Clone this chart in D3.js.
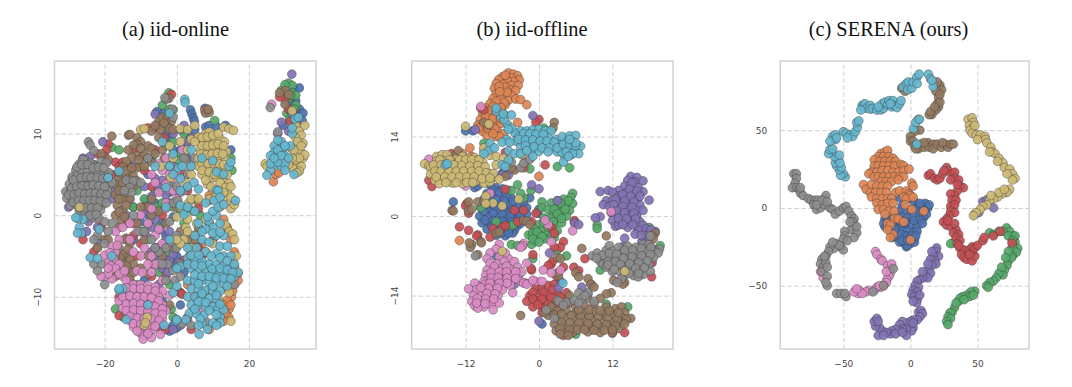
<!DOCTYPE html>
<html><head><meta charset="utf-8">
<script src="https://cdn.jsdelivr.net/npm/d3@7/dist/d3.min.js"></script>
<style>html,body{margin:0;padding:0;background:#fff}svg{display:block}</style>
</head><body><svg id="chart" width="1072" height="387"></svg>
<script>
const classNames=["blue","orange","green","red","purple","brown","pink","gray","olive","cyan"];
const classColors=["#4C72B0","#DD8452","#55A868","#C44E52","#8172B3","#937860","#DA8BC3","#8C8C8C","#CCB974","#64B5CD"];

// (a) iid-online
const aBlue=[[32.5,15.5],[34,15.6],[33,14],[34,13],[35,12.5],[33.5,12],[34.8,11.6],[29.5,11],[32,13.6],[31,13.8],[3.8,12.9],[4.2,12.4],[4.6,11.9],[4.9,11.5],[7.8,13.1],[-4,12.5],[-5.5,12.7],[8,10.8],[9,11],[11,10.9],[5,10.5],[-2,9.5],[-3,10],[3,10],[-1,8],[1,8],[2.5,8.5],[13.5,11],[15,8],[-8,0],[-6,1.5],[-8.5,1.8],[-4,-1],[-2,1.5],[-1,-0.2],[2,0.5],[-10,-0.8],[-3,-5.5],[-1,-6],[-12,-3],[-2,-14.2],[0,-13.8],[-1,-13.5],[1,-11],[-4,-10.5],[-9,-8],[-11,-9],[0,-5],[-5,3],[-14,6],[-23,6.2],[-27,3],[2,-7],[-6,0.5],[-3,-2.5],[-12,1],[6,9.5],[-2,2.8],[-8,5],[3,7]];
const aOrange=[[26.8,4.1],[27.5,5],[28.3,5.2],[16.5,-7.5],[17,-7.1],[16,-6.3],[15.6,-5.5],[15,-8.5],[14,-9],[15.2,-10],[14,-10.4],[13,-11],[14.5,-11.5],[14.4,-12.5],[13.5,-12],[12,-12.7],[11,-9.5],[10,-11],[8,-9.3],[7,-3.5],[5,-3.8],[4,-2.5],[15,-3],[14,-1.5],[13,-0.5],[4,-6],[10,-7],[12,-7.7],[3,-8.5],[3,-12.5],[9,-14],[16,-8.5],[7.8,12.8],[8.5,12.9],[6,1.5],[9,2.4],[12,3],[15.5,-9.3],[16,-4.5],[14.5,-7.5],[17,-8],[13,-13],[15,-11],[15.5,-7.2],[2,-6],[6,-2],[3.5,-4]];
const aGreen=[[31,16.2],[32,15.9],[29,15.3],[32,15],[33,14.7],[31,14.3],[33,13.5],[32,12.8],[30.5,12.5],[31.3,11.8],[33,11.8],[-1,12.9],[-2.2,15],[-4,13.5],[-2,13],[-3,11.5],[-6,10.8],[-5,11],[10.5,11.6],[2,10],[-1,9],[-3,8.5],[1,7.5],[0,6.8],[15,7],[15.3,5.5],[-18,8.3],[-16,8],[-6,3],[-5.5,1],[-4,1.5],[-7,-0.5],[-5,-1.5],[4.5,0.5],[6.5,0],[2,-1],[-6,-5],[-3,-4.5],[-2,7],[-9.5,-2],[-11,-8.5],[-15,-5.3],[-17,-11.5],[-2,-8.5],[-1.5,-11.5],[1,-9.5],[-20,5],[-29,4.5],[-8,-3],[-1,-12.5],[-14.8,-12.5],[-0.5,3.2],[31.5,14.7],[32.6,13],[30,16],[-7,7],[-1,1],[-9,2],[-5,-7],[-8,-1.3],[-2,4],[-4,3],[3,1],[1,0.5],[-11,3],[-10,6],[-12,1]];
const aRed=[[30,15],[31,13],[32.5,12.5],[30,14.2],[28.5,14.5],[31.5,11.5],[-1.5,14.8],[-8,10.7],[-6,10.6],[-3.5,9.5],[-19,8.7],[-19.5,8],[-20,7.2],[-22,7.5],[-17,6.5],[-16,6],[-15,6.5],[-13,6],[-12,8],[-9,5.5],[-2,6],[1,5.2],[-7,3.5],[-4,0],[-12,-1],[-12,-2.5],[-10,-3.5],[-9,1],[-22,-4],[-23,-4.5],[-21,-1.5],[-26,-3],[-16,-12.3],[-16,-10],[-7,-7.5],[-3,-7.5],[1,-9.5],[1.5,-9.7],[-4,-14],[-3,-14],[6,0.8],[9,-1],[6,-4],[7,-5],[2,-5.5],[-14,-1],[9,1.8],[-14,3],[-20,2],[-24,1],[4,-14],[-18,5],[-11,-5],[5,-10],[10,-3],[3,3],[-6,8]];
const aPurple=[[31.9,17.3],[28,10],[29,11.4],[31,10.3],[32,12.5],[33,11.3],[-6,12.4],[-20.5,9],[-26,7],[-24,7.2],[-23.5,5.8],[-21,5],[-19,3.5],[-18,2],[-30,1],[-24,0],[-24.5,-0.8],[-22,-1.5],[-25,-2],[-9,3.5],[-6,4.5],[-5,3.5],[-3,2.5],[-8.8,0.5],[-6,-0.5],[-7,-1.5],[-4.5,-1.8],[-2,-2],[-0.5,-4],[0.5,-5.8],[-2,-5.5],[-1,-4.8],[-6,-4],[-4,-6.5],[-8.5,-2.5],[-5,-8.5],[-13,-8],[-11,-10.5],[-6,-12],[-3,-11.5],[-1,-14],[0,-12.8],[1,-13.5],[2,11],[1,10.5],[3,9],[-1,6],[0,3],[-1,10],[-14,0],[-13,2],[-12,6],[-3,-3],[-4.5,-3.8],[-7,2.3],[-4,4.3],[-5,-5],[-2.5,-7],[-7,-4.5],[4,9.5],[-17,3],[-22,-3]];
const aBrown=[[-18,9.7],[-13.4,9.8],[-13,9.9],[-11,9.5],[-10,9],[-11,8.7],[-12,8.6],[-8,8.5],[-7,8.2],[-9.5,7.2],[-11,7.3],[-12.5,7.1],[-14,6.6],[-15,5.9],[-13,5.5],[-11,5.8],[-9,6],[-7,6.5],[-12,4.8],[-14,4.5],[-16,4.6],[-17,3.8],[-15.5,3.5],[-13.5,3.2],[-12,3.5],[-17,2.5],[-15,2],[-13,2],[-16.5,1.2],[-15,0.6],[-17,0],[-15.5,-0.7],[-16,-1.5],[-5,11.5],[-4,12],[-2.5,12],[-1.5,11.5],[-3,11],[-4.5,10.5],[-2,10.6],[-7,10.3],[-1,10.5],[-2.2,14.3],[-4,8],[-3.5,7],[8,12.5],[9,12.6],[8.7,13],[-22,-4],[-20,-3],[-14,-2.8],[-14.5,-3],[-13,-3.5],[-14,-5],[-15,-4.8],[-13,-5.5],[-15,-6],[-13.5,-6.6],[-15.8,-5.2],[-12,-6],[-17,-5],[-18.5,-5.5],[-13,-7.7],[-17,-7.5],[-8,-7.2],[-6.5,-6],[-5,-9.5],[-2,-11],[6,-1.5],[5,-3],[3.5,-5],[30,15.3],[28.5,15],[31,14.8],[30,13.6],[-21,7.5],[-19,6.8],[-8,1],[-7,2],[-16,5.2],[-14,5.5],[-12.5,5.8],[-10.5,6.8],[-9,7.5],[-15,4],[-13,4.3],[-11,4.2],[-16,3],[-14,2.8],[-16,2],[-14,1.2],[-16,0.4],[-14.5,-0.2],[-10,8.2],[-8,7],[-6,7.5],[-13.5,8],[-6,11],[-3.5,11.3],[-5,9.5],[-13.5,-4.2],[-16,-4],[-14,-6.2],[-16,-7],[-12,-7],[-10,-6.5],[-19,-3],[-7,0],[-5,0.5],[-3,-1],[-1,-4],[-10,1],[-11,-1],[-9,-3],[-8,-5],[-4,-5],[3,-3],[1,-2],[0,1]];
const aPink=[[26.3,13.6],[-16,-3],[-17,-4.5],[-18,-3.8],[-17,-2],[-15,-1.5],[-17.5,-5.3],[-19,-5.6],[-20,-4.9],[-18.2,-6.2],[-16,-6],[-15,-7.5],[-18,-7.8],[-20,-7.5],[-19,-7.2],[-21,-7.5],[-14,-8],[-12,-8.5],[-10,-8.5],[-8,-8.6],[-6,-8.8],[-4,-9.3],[-15,-9.5],[-13,-9.4],[-11,-9.5],[-9,-9.6],[-7,-9.7],[-5,-10],[-16,-10.5],[-14,-10.4],[-12,-10.3],[-10,-10.4],[-8,-10.5],[-6,-10.8],[-4,-11],[-15,-11.4],[-13,-11.2],[-11,-11.2],[-9,-11.4],[-7,-11.5],[-5,-11.7],[-3,-11.7],[-13.5,-12],[-12,-12],[-10,-12.2],[-8,-12.3],[-6,-12.5],[-4,-12.7],[-13,-12.9],[-11,-13],[-9,-13],[-7,-13.2],[-5,-13.3],[-12,-13.7],[-10,-13.8],[-8,-13.9],[-6.5,-14],[-10,-14.5],[-9,-14.8],[-9.3,-15.2],[-4.5,-14.6],[-7,-15],[-4,-3.5],[-6,-2.5],[-5,-1.7],[-3,0.8],[-5,2.8],[-2,3.2],[-1,3],[1,2.8],[-3,7],[-5,6.3],[-4,5.5],[-2,5],[-3,3.8],[1.5,8],[-1,4.5],[-6,-6],[-8,-6],[-7,-5],[-10,-5],[-11,-6.8],[-9,-4],[-12,-4.5],[-22,-0.5],[6,-11.5],[-2,-9.8],[-14,-8.9],[-12,-9],[-10,-9],[-8,-9.1],[-6,-9.3],[-15,-10],[-13,-9.9],[-11,-10],[-9,-10],[-7,-10.1],[-5,-10.5],[-14,-10.9],[-12,-10.8],[-10,-10.9],[-8,-11],[-6,-11.2],[-4,-11.5],[-14,-11.7],[-12,-11.6],[-10,-11.7],[-8,-11.8],[-6,-12],[-4,-12.2],[-13,-12.4],[-11,-12.6],[-9,-12.6],[-7,-12.7],[-5,-12.9],[-12,-13.3],[-10,-13.4],[-8,-13.5],[-6,-13.6],[-11,-14.2],[-8,-14.5],[-17,-6.5],[-16,-7.2],[-14.5,-6.8],[-18.5,-4.6],[-19,-6.5],[-16.5,-3.7],[-10,0],[-7,0.8],[-3,1.5],[0,5.5],[2,4.5],[-7,5],[-6,4],[-8,-1],[-11,-2],[-13,-1],[-13,-3],[-9.5,-7],[-7,-7],[-3,-6],[-4,-8],[0,2]];
const aGray=[[25.9,13.2],[28,10.2],[-28,5.5],[-27,6.3],[-25.5,6.8],[-24,6.4],[-22.5,6],[-21,6.6],[-19.5,6.4],[-29,4.7],[-27.5,4.9],[-26.2,5.4],[-24.8,5.3],[-23.3,5],[-21.8,5.2],[-20.3,5],[-18.8,5.2],[-29.8,3.8],[-28.4,3.9],[-27,4.1],[-25.5,4.2],[-24,4],[-22.6,4.3],[-21,4],[-19.5,4.2],[-18,4],[-30.8,2.9],[-29.5,2.9],[-28,3],[-26.6,3.2],[-25.2,3.1],[-23.7,3.1],[-22.2,3.2],[-20.8,3],[-19.2,3],[-30.5,2.1],[-29,2],[-27.6,2.2],[-26,2.2],[-24.5,2.3],[-23,2.2],[-21.5,2.2],[-20,2.1],[-29.5,1.2],[-28,1.3],[-26.6,1.3],[-25,1.4],[-23.6,1.3],[-22,1.3],[-20.5,1.3],[-27,0.5],[-25.6,0.5],[-24,0.5],[-22.7,0.5],[-21.2,0.6],[-25,-0.3],[-23.3,-0.3],[-21.5,-0.4],[-24.5,9],[-24,8.6],[-23,7.9],[-26,6.8],[-14,4.3],[-12,4.2],[-13,3.4],[-12.5,2.8],[-14.5,3],[-3,14.2],[-3.3,14.4],[-1.3,13],[-1,12],[-20,-3.5],[-22,-2.5],[-23,-3],[-21,-6],[-22,-6.8],[-20,-8.5],[-23,-6],[-5,-4.5],[-3,-4],[-1.5,-3.3],[0,-2.5],[-2,-0.8],[-1,1.5],[0.3,1.8],[2,3],[-6,-4],[-1,-6.8],[1,-6],[-2.5,-6],[1.5,-13.3],[3,-12.8],[4,-13.5],[8,-13],[16,-8.5],[-10.5,-2],[2.5,6.8],[2,7],[4,6],[5,7],[-27.7,5.9],[-26.3,6.2],[-24.7,6.2],[-23.2,5.8],[-21.6,5.9],[-20.2,5.8],[-28.6,4.3],[-26.5,4.6],[-25,4.7],[-23.7,4.6],[-22,4.6],[-20.5,4.5],[-19,4.6],[-29.2,3.3],[-27.7,3.5],[-26.2,3.6],[-24.6,3.6],[-23.2,3.7],[-21.6,3.6],[-20,3.5],[-30,2.5],[-28.5,2.5],[-27,2.7],[-25.5,2.6],[-24,2.7],[-22.5,2.7],[-21,2.6],[-19.5,2.5],[-28.7,1.6],[-27.2,1.8],[-25.7,1.8],[-24.2,1.8],[-22.7,1.8],[-21.2,1.7],[-19.5,1.5],[-27,0.9],[-25.3,0.9],[-23.7,0.9],[-22,0.9],[-24,0],[-22.4,0.1],[-12,0],[-9,-2],[-7,-3],[-4,-6],[-3,-8],[0,-4],[-0.5,-8],[1,-7.5],[0,3.5],[3,5],[5,2],[-8,7],[-10,4],[-18,-1],[-19,-2],[-20,-0.8]];
const aOlive=[[32,12.8],[33,11],[34,10.3],[35.5,11],[34.5,9.8],[33,9.5],[35,8.8],[33.3,8.5],[31.8,8.2],[34.3,7.8],[33,7.2],[35,7],[31.5,6.9],[33.2,6.2],[35.5,7.4],[32.2,5.7],[34.5,6],[24.5,6.3],[25,6],[13,10.8],[14.5,10.6],[15.7,10.4],[8,10],[9,10.2],[6,9.6],[7.5,9],[9,9],[10.5,9.2],[12,9.4],[13.2,9],[6.5,8],[8,8],[9.5,8],[11,8.2],[12.5,8],[13.8,7.8],[6,7],[7.5,6.8],[9,7],[10.5,7],[12,7],[13.5,6.8],[6,6],[8,5.8],[10,5.8],[11.5,5.7],[13.5,5.7],[4,5],[7,5],[9.5,4.5],[11,4.6],[13,4.2],[14.5,3.9],[8.5,3.8],[10,3.2],[12,3],[14,2.8],[2.5,4],[9,2],[13,2],[14.8,1.5],[12,1],[15,0.8],[16,1.3],[-10,10.5],[-9,10.6],[1,10.6],[3,10.5],[5,11],[4,9.3],[-2,8.5],[-4.5,6],[-1.7,4.6],[0,-0.2],[3.3,1.5],[2.5,-1.5],[4,-4],[3,-2],[2,-3],[1,-3.5],[13.5,-1.2],[14.5,-2],[15.5,-2.3],[16,-3],[16.5,-5],[8,-0.5],[-27,1],[-9,-13.5],[-8.2,-12.5],[-8.7,-13.2],[15,-13],[11.5,-10.2],[14.5,-9.5],[8,-6.5],[8,-4.5],[10,-3.5],[7,9.5],[8.5,9.6],[10,9.8],[11.5,10],[7,8.5],[8.5,8.5],[10,8.6],[11.5,8.7],[13,8.5],[6.7,7.5],[8.3,7.4],[9.8,7.5],[11.3,7.6],[12.8,7.5],[7,6.3],[8.7,6.3],[10.2,6.4],[11.8,6.3],[13,6.2],[7,5.5],[9,5.3],[10.5,5],[12.5,5],[14,5],[8,4.3],[12,4],[13.5,3.4],[15,3.5],[9.5,3.5],[11,2.5],[13,2.8],[15,2.2],[33.5,9],[32.5,8],[34.5,8.5],[33,6.8],[34,7],[32,7],[31,6.2],[34,5.4],[33.3,5.2],[1,1],[-1,7],[-2,6],[2,6],[3,8],[5,9],[1,9],[4,2],[5.5,-1],[0,-3],[3,-0.5],[6,2]];
const aCyan=[[29,9],[27,8.5],[29.5,8.2],[27,7.7],[26,7.3],[28,7],[30,7.3],[31.5,8.5],[27,6.2],[29,6],[30,6.2],[26,5.5],[25,4.9],[32.5,5],[32,10],[32.8,11.8],[33.7,12],[32,10.7],[-26,-0.5],[-27.5,-0.4],[-27,-1.5],[-26.5,-2.2],[-27.5,-2.2],[-28,-0.3],[-24,-5.2],[-21.5,-1.7],[-16,5.4],[-19,4.6],[-3,3.4],[1,1.2],[2,0.1],[-2,12.5],[2.2,14.2],[2.3,13.8],[0.5,5.8],[1,4.5],[3,3.5],[4.8,4],[6,3.2],[7,7],[10,6.7],[11,5.3],[13,5],[14.5,6],[16.3,1.8],[15,6.5],[11,3.1],[11.5,3],[10.3,1.8],[12,2.2],[8,1.5],[5,0.5],[-18,-5],[6,-1],[9,-0.8],[11,0],[12,-1],[10,-1.5],[8,-1.7],[11,-2.5],[13,-2.5],[7,-3],[9,-3.3],[12,-3.8],[14,-3.8],[5.5,-4],[8,-4.5],[11,-4.7],[13,-5],[15,-5],[3,-5.3],[5,-5.5],[7,-5.6],[9,-6],[11,-6],[13,-6.2],[15,-6.4],[4,-6.5],[6,-6.7],[8,-7],[10,-7.1],[12,-7],[14,-7.3],[16,-7.5],[17,-7],[3,-8],[5,-8],[7,-8],[9,-8.2],[11,-8.2],[13,-8.4],[4,-9],[6,-9],[8,-9.2],[10,-9.3],[12,-9.3],[3,-10],[5,-10],[7,-10.1],[9,-10.2],[11,-10.4],[4,-11],[6,-11],[8,-11.2],[10,-11.2],[11.5,-11.5],[13,-11.6],[3.5,-12],[5.5,-12.1],[7.5,-12.3],[12,-12.5],[2.5,-12.8],[7,-13.3],[10,-13.2],[12,-13.2],[6.2,-14.6],[8.5,-14],[-0.2,-13],[0,-12.8],[-1,-9.5],[0,-8.7],[-3.5,-13.5],[-15,-9],[-16,-9.2],[-16,-9],[-14,-12.8],[-8,-11],[-22,-5.3],[-2,6],[-1,5],[4,6],[1,-6.3],[0,-6.5],[4,-4.9],[6.2,-4.9],[9.5,-5],[12,-5.2],[14,-5.6],[16,-6],[3,-6],[5,-6.1],[7,-6.2],[9.8,-6.6],[12,-6.5],[14,-6.7],[15.5,-7],[5,-7.3],[7,-7.5],[9,-7.5],[11,-7.7],[13,-7.7],[15,-7.8],[6,-8.4],[10,-8.7],[14,-8.7],[7,-9.6],[11,-9.8],[6,-10.6],[8,-10.7],[12,-10.9],[5,-11.5],[9,-11.7],[6.5,-12.7],[11,-12.2],[6,-13.5],[11,-13.5],[7,-2],[10,-2.2],[12,-2.1],[8.5,-0.2],[10,0.5],[11.5,1],[13,1.3],[3,-4],[5,-2.5],[28,8],[26,6.3],[28,6.5],[30,5.5],[29,7.3],[27,7],[31,7],[28,9.2],[30,8.5],[-3,1],[-6,6],[-4,9],[-1,7.5],[1,3],[3,1],[4,8],[1.5,6],[-2,-3]];

// (b) iid-offline
const bBlue=[[-14,2.5],[-10.5,5],[-10,5.3],[-8,5.5],[-7,5],[-6,4.8],[-5,4.5],[-8.5,4],[-7.5,3.8],[-6,3.5],[-4.5,3.2],[-3,2.8],[-9,3],[-8,2.5],[-6.5,2.2],[-5,2],[-3.5,1.8],[-2,1.5],[-9.5,1.5],[-8,1.2],[-6.5,1],[-5,0.8],[-3.5,0.5],[-2,0.3],[-9.7,0],[-8.2,-0.1],[-7,-0.2],[-5.5,-0.3],[-4,-0.5],[-2.5,-0.8],[-9.3,-1.2],[-8,-1.3],[-6.5,-1.5],[-5,-1.6],[-3.5,-1.7],[-8.5,-2.3],[-7,-2.5],[-5.5,-2.6],[-4,-2.5],[-7,-3.4],[-5.5,-3.5],[-4.3,-3],[-2.5,2.5],[-1.5,3.2],[0,1.2],[-0.2,0.5],[-5,8],[-6,7.5],[-12,15],[-10.8,15],[0.5,-19],[-7,-7],[3.5,-11.5],[-7.5,4.6],[-6.5,4.2],[-5.3,3.8],[-8.3,3.3],[-7,2.9],[-5.7,2.7],[-4.2,2.5],[-8.7,1.9],[-7.3,1.6],[-5.8,1.5],[-4.3,1.2],[-2.8,1],[-9,0.8],[-7.5,0.5],[-6,0.3],[-4.7,0],[-3,0],[-8.8,-0.7],[-7.5,-0.8],[-6,-0.9],[-4.5,-1],[-3,-1.3],[-7.7,-1.9],[-6,-2.1],[-4.7,-2.1],[-6.2,-3],[-5,-3]];
const bOrange=[[-5,25.2],[-4.2,25],[-3.5,24.7],[-4.5,24.3],[-6,24.5],[-3.2,24],[-4.2,23.7],[-5.2,23.8],[-6.6,24],[-7,23.3],[-5.8,23.2],[-4.5,23],[-3.4,23],[-7.3,22.5],[-6,22.3],[-4.7,22.2],[-3.8,22.1],[-7,21.5],[-5.8,21.4],[-4.5,21.3],[-7.5,20.7],[-6.3,20.6],[-5,20.4],[-3.8,20.6],[-3,20.5],[-8,19.8],[-6.8,19.7],[-5.5,19.6],[-8.7,19],[-7.5,18.7],[-6.2,18.6],[-9.2,18],[-8,17.7],[-6.8,17.6],[-5.6,17.8],[-9.6,17],[-8.3,16.8],[-7,16.7],[-10,16],[-8.8,15.8],[-7.5,15.8],[-6.2,16.3],[-9.2,14.9],[-8,15],[-6.8,15],[-7,14],[-5.8,14.5],[-2,19.6],[-6.5,14],[0,7],[-13,-4.3],[-9,16],[-8.5,14.2],[-3.5,16.5],[-11,10.5],[-12.5,11],[-11.3,12],[-5.5,24.8],[-5.6,22.7],[-6.5,22.8],[-5.2,21.8],[-6.4,21.9],[-5.7,20],[-7,20.2],[-7.5,19.3],[-6.2,19.1],[-8.2,18.5],[-7,18.2],[-8.7,17.5],[-7.5,17.2],[-9,16.4],[-6.3,17.2],[-8.3,15.4],[-7.2,15.4],[-9.8,15.5],[-7.5,14.5]];
const bGreen=[[0.8,15.5],[-7,-1],[-9.5,1.5],[-4.5,4.5],[-3.5,5.5],[-2.5,3.2],[-3,4],[-1.5,8.3],[-9,12.8],[-1.3,4.5],[0.5,2.5],[0.5,1.5],[3,8.7],[5,8.5],[5.5,4],[5.2,3.3],[4,3],[3,2.7],[2,2.3],[5.5,2.2],[4.2,2],[3,1.6],[1.5,1.2],[5,1],[3.7,0.7],[2.3,0.3],[0.8,-0.3],[4.5,0],[3,-0.5],[1.5,-1],[0,-1.5],[3.7,-1.2],[2.3,-1.7],[0.8,-2.2],[-0.8,-2.2],[3,-2.6],[1.5,-3],[0,-3.2],[-1.2,-3.5],[2.5,-3.8],[1,-4],[-0.8,-4.5],[-1.7,-3.3],[-4.5,-1.7],[-4.5,-5],[-3.5,-5.2],[-1.2,-5],[-1,-7.5],[-1,-3],[9.5,-1.6],[9.5,-2.2],[-4.2,-1.5],[3,-6],[4.5,-7],[14.5,-16],[11,-15.5],[6,-20.8],[15.5,-0.5],[18,-2],[19.8,-5.2],[13,3.5],[10,-9.5],[4.8,2.7],[3.5,2.3],[2.5,1.2],[4.3,1.2],[3,0.4],[1.8,-0.4],[3.7,-0.4],[0.8,-1.2],[2.3,-1],[-0.3,-2.8],[1.5,-2],[2.2,-3.3],[0.5,-3.6],[-1,-4],[0,-4.6]];
const bRed=[[-14.3,11],[-18,6.3],[-17.5,5.2],[-11.8,2.2],[-12,1.8],[-11.5,0.5],[-13,-1.9],[-11.5,-2.5],[-10,-3.3],[-10.2,-3.5],[-8,-3.7],[-7.5,-2.2],[-6,-2],[-5.5,-1.7],[-3.5,-1],[-2.5,1],[-5.5,4.7],[-4,1],[-1.2,-1],[-0.5,0.5],[2,-2],[2.5,-3],[4,-4.5],[3.5,-5.5],[2.5,-5.5],[5.8,-1],[5.8,-0.8],[-9.5,19],[-9,18.7],[0,17],[-0.5,16.5],[-5.5,11.2],[-2.5,8.5],[1,9],[-1.2,-9.5],[-1.3,-9.2],[2,-8.5],[2.2,-8],[1.5,-8.7],[4,-9],[-0.5,-12.5],[0.5,-12.7],[1.5,-12.2],[2.5,-12],[-1.5,-14],[0,-14],[1.5,-13.8],[3,-13.5],[4.5,-13.5],[-2,-15],[-0.5,-15],[1,-15],[2.5,-15],[4,-14.8],[-1,-16],[0.5,-16],[2,-16.2],[3.5,-16],[0.5,-17],[2.5,-17.2],[5.7,-9],[6.5,-9.6],[7.5,-7.5],[18.5,-8.2],[18.4,-10.7],[4,-21],[5,-20.6],[9,-20],[12,-20.6],[14,-20.5],[13.5,-11.5],[2.8,-10.5],[-2.2,-11.8],[-6,-10],[-1,-6.8],[-1,-13.4],[0.7,-13.4],[2.3,-13],[-1,-14.6],[0.5,-14.6],[2,-14.4],[3.5,-14.3],[-0.2,-15.6],[1.5,-15.6],[3,-15.6],[4.5,-15.5]];
const bPurple=[[15,7],[16,6.8],[14.5,6.3],[15.7,6],[17,6.2],[14,5.3],[15,5.2],[16.2,5],[13,4.5],[14.3,4.2],[15.5,4],[17,4.3],[10,4.3],[11.3,4.5],[12,4.2],[13,3.5],[14.5,3],[16,3],[11,2.7],[12,2.8],[13.5,2.3],[15,2],[16.5,2],[18,2.8],[10.5,2],[11.5,1.7],[13,1.3],[14.5,1],[16,1],[11.8,0.6],[13,0.3],[14.5,0],[16,0],[12,-0.8],[13.5,-1],[15,-1],[16.5,-1],[12.5,-1.8],[14.5,-2],[16,-1.9],[17,-1.6],[13,-1.6],[16.5,-2.5],[17.5,-2.2],[18,-3],[15.7,-3.2],[17.5,-3.5],[19,-2.7],[14,-3.9],[16.8,-4.5],[18,-4.3],[13.7,-5.4],[10,-0.1],[9.2,-0.3],[-1,17.7],[-10.4,15.2],[-6,7.3],[-5,7.2],[-1.2,5.5],[0,4.8],[1.7,-6.5],[3,2.7],[5.8,-1.2],[6.5,-1.5],[0,-18.5],[3.2,-12.6],[7,-12.5],[8.5,-12],[8,-13.7],[18.8,-6.3],[19,-6],[-4,-12],[15.2,5.9],[14.8,4.7],[16,4.4],[13.7,3.8],[15,3.5],[16.5,3.5],[12.5,3],[14,2.7],[15.5,2.5],[12.2,2],[13.7,1.7],[15.2,1.5],[17,1],[12.7,0.9],[14,0.6],[15.5,0.5],[13,-0.4],[14.3,-0.5],[15.8,-0.5],[13.7,-1.5],[15.3,-1.5],[16.7,-3.4],[18.3,-2.4]];
const bBrown=[[-13.2,11.5],[-14,10.5],[-14.2,1],[-14,0.9],[-11.5,1],[-11.5,2.5],[-11,1.2],[-10,2.5],[-9,2.6],[-11,-5],[-11.2,-5.5],[-11.4,-4.7],[-9.5,-4.5],[-9.4,-4.7],[-7,-3],[-6.5,-2.8],[-10,-6.8],[-2.5,-0.8],[-2,-0.9],[-1.5,-1.5],[2.5,16.5],[2.3,15.5],[-8.2,16],[-9,16.5],[-4,8.1],[-5.5,7],[-4.5,8.5],[-2.3,9.5],[3,-7.3],[3.5,-7.5],[7,-5.7],[8,-11],[8.5,-12],[9,-12.5],[6,-10],[6.5,-10.7],[3.2,-10.5],[3,-10],[11,-3.5],[19,-3],[18.5,-3.5],[18.7,-4],[14,-11.7],[12.2,-11.3],[13.7,-12],[11.8,-13.5],[11,-13.7],[8,-14.5],[10,-14.5],[5,-14],[5,-15.3],[6,-16],[7.5,-16],[9,-15.5],[11,-16],[12.5,-16.3],[13.5,-16],[14,-17],[2,-16],[3,-16.7],[4.5,-16.7],[6,-17],[7.5,-17],[9,-16.8],[10.5,-17.2],[12,-17.3],[13.5,-17.8],[15,-18],[1.5,-17.5],[3,-18],[4.5,-18],[6,-18.2],[7.5,-18.2],[9,-18.3],[10.5,-18.4],[12,-18.7],[13.5,-18.7],[2.5,-19],[4,-19.3],[5.5,-19.5],[7,-19.4],[8.5,-19.5],[10,-19.7],[11.5,-19.6],[13,-19.8],[2.8,-20.2],[4.2,-20.5],[5.5,-20.5],[8,-20.4],[10,-20.5],[12,-20.5],[-3,-17.5],[1,-17],[2.5,-17.4],[3.7,-17.3],[5.3,-17.5],[6.8,-17.6],[8.2,-17.6],[9.7,-17.7],[11.2,-17.9],[12.8,-18.2],[14.3,-18.2],[3.7,-18.7],[5,-18.8],[6.5,-18.8],[8,-18.9],[9.5,-19],[11,-19.1],[12.5,-19.3],[14,-19],[3.4,-19.8],[5,-20],[6.3,-20],[7.4,-20],[9,-20.1],[10.7,-20.1],[12,-20],[3.5,-20.8],[4.8,-21],[6.5,-16.5],[8.2,-16.5],[10,-16.6],[11.5,-16.7],[13,-17]];
const bPink=[[-18,10],[-12,5.3],[-9.5,19.3],[-8,4],[-6.5,-5],[-7,-5.8],[-5,-7.5],[-2.5,-4.8],[-2.7,-5.3],[-8,-6.5],[-8.5,-7.5],[-6.5,-7.2],[-5.5,-6.5],[-8,-8.3],[-6.8,-8.4],[-5.7,-8],[-4,-8],[-8.5,-9.5],[-7.2,-9.3],[-6,-9.2],[-4.8,-9.3],[-3.5,-9],[-8.7,-10.4],[-7.5,-10.4],[-6,-10.3],[-4.5,-10.4],[-3.2,-10.2],[-8.5,-11.3],[-7.2,-11.3],[-6,-11.2],[-4.5,-11.4],[-9,-11.5],[-7.5,-12.2],[-6,-12.3],[-4.7,-12.2],[-8.8,-12],[-10,-12.3],[-10.5,-11.8],[-9,-13],[-7.5,-13.2],[-6,-13],[-10.3,-13],[-11.5,-12.8],[-9.5,-14],[-8,-14.2],[-6.7,-14],[-10.7,-14],[-11,-15],[-9.5,-15],[-8,-15],[-10.5,-15.8],[-9,-16],[-7.8,-15.5],[-7.5,-16.5],[-10,-16.2],[-6.5,-15.3],[-4.3,-13.5],[-3,-11.5],[-2.5,-11.8],[-2,-12],[-0.5,-11.5],[-1,-11.3],[0.7,-9.5],[0.5,-11.5],[3.5,-9.5],[2,-10],[-2,-8.3],[-2.8,-9.8],[2,-4.5],[1.5,-1.5],[5.5,-2.6],[1,-0.7],[11.8,0.8],[-2.7,-5.2],[-3,-5.5],[-7.3,-8.9],[-5.3,-8.8],[-7.8,-9.9],[-6.5,-9.8],[-5.3,-9.8],[-3.8,-9.8],[-7.8,-10.9],[-6.7,-10.8],[-5.2,-10.9],[-3.8,-11],[-8,-11.8],[-6.5,-11.8],[-5.2,-11.8],[-8.2,-12.7],[-6.8,-12.7],[-9.5,-12.6],[-8.5,-13.6],[-7.2,-13.7],[-10.1,-14.5],[-8.7,-14.6],[-7.4,-14.6],[-10.2,-15.3],[-8.8,-15.4]];
const bGray=[[-1.5,12],[-3,8.5],[-4.5,9.5],[-2.5,9.3],[-1.5,10],[-10.4,-7],[8.7,-7],[9.5,-6.5],[10,-7.5],[11,-6],[11.5,-5.2],[12,-6.2],[13,-5.5],[14.5,-5.3],[15.8,-5.5],[17,-5],[18,-5],[19.7,-5.8],[10,-8],[11,-7.2],[12.2,-7.2],[13.5,-6.6],[15,-6.7],[16.5,-6.3],[18,-6],[19,-6.2],[19.5,-6.5],[10.5,-8.5],[11.8,-8.2],[13,-8],[14.5,-7.8],[16,-7.5],[17.5,-7.3],[18.7,-7.3],[11,-9],[12.5,-9],[14,-8.9],[15.5,-8.6],[17,-8.4],[18,-8.5],[12,-9.8],[13.3,-9.9],[15,-9.7],[16.5,-9.6],[14,-10.4],[15.5,-10.5],[17,-10.3],[16.2,-10.7],[13.5,-11],[12.8,-11.7],[18.2,-9.7],[6.5,-13.5],[7,-14.5],[8,-13.5],[7.5,-14],[9,-15],[18.2,-3.5],[3,-14.8],[3.2,-15],[4.5,-15.2],[4,-15.7],[5.7,-14.8],[6.5,-15.3],[1.2,-16.5],[2.5,-18],[10.4,-6.9],[11.5,-6.6],[12.7,-6.7],[14,-6],[15.3,-6],[16.7,-5.7],[18.3,-5.5],[9.4,-7.4],[11.3,-8],[12.5,-8],[13.8,-7.4],[15.2,-7.2],[16.8,-7],[18.2,-6.8],[11.3,-8.6],[13.3,-8.5],[14.8,-8.4],[16.3,-8.2],[17.7,-7.9],[12.3,-9.4],[14,-9.5],[15.8,-9.2],[17.2,-9.1],[14.7,-10.1],[16.3,-10.1]];
const bOlive=[[-18.7,9.2],[-18,8.8],[-16.7,10.5],[-15.8,10.8],[-15,10.8],[-13.5,10],[-12.5,10.5],[-11.5,10.2],[-10.5,10.3],[-10,9.8],[-9.2,9.5],[-16.7,9.7],[-15.5,9.7],[-14.5,9.5],[-13.3,9.4],[-12,9.3],[-10.8,9.2],[-9.7,8.7],[-17.7,8.5],[-16.5,8.7],[-15.3,8.5],[-14.2,8.5],[-13,8.3],[-11.7,8.2],[-10.5,8.3],[-9.3,8],[-8,7.5],[-17.7,7.4],[-16.3,7.3],[-15,7.4],[-13.7,7.4],[-12.3,7.5],[-11,7.5],[-9.7,7.2],[-8.5,6.8],[-7.5,6.8],[-6.5,6.5],[-17,6.3],[-15.7,6.3],[-14.5,6],[-13,6.3],[-11.5,6.5],[-10.2,6.2],[-9,5.8],[-8,6],[-16.3,5.7],[-14,5.8],[-12.5,5.7],[-9,11.5],[-9,12],[-8,10.7],[-7,10.5],[-5.8,10.2],[-7,9],[-2.5,11.5],[-2.8,10.8],[-8.7,3.5],[-7.5,2.3],[-8.7,2.2],[-6,1.8],[-3.3,3],[-6,-6.2],[14,-9.7],[-12,15.8],[-8.2,16.2],[2.5,13],[0.2,12.8],[-16.2,9.9],[-14.6,9.9],[-13,9.9],[-12,9.9],[-11,9.9],[-9.8,9.9],[-17.2,9],[-16,9],[-15,9],[-13.9,9],[-12.6,8.9],[-11.3,8.8],[-10,8.9],[-8.8,8.7],[-17,7.9],[-16,7.9],[-14.7,7.9],[-13.5,7.9],[-12.3,7.9],[-11,7.9],[-9.8,7.9],[-8.6,7.6],[-7.5,7.5],[-16.8,6.9],[-15.4,6.9],[-14.2,6.9],[-13,6.9],[-11.8,6.9],[-10.6,6.9],[-9.3,6.6],[-8,6.7],[-15.2,5.9],[-13.5,5.9],[-11.8,5.9],[-10.8,5.9]];
const bCyan=[[-15.3,9],[-3,15],[-2,15],[-1,15.2],[0,15.3],[1,15],[2,15],[-4,14.7],[-3.3,14],[-2.2,14],[-1,14],[0.2,13.8],[1.5,13.8],[2.8,13.5],[3.8,14],[5,14.1],[6,14.2],[-3.8,13.2],[-2.7,13],[-1.5,12.8],[-0.3,12.7],[0.8,12.7],[2,12.5],[3.3,12.5],[4.5,13],[5.5,13],[6.8,12.3],[-3,12.2],[-1,11.8],[0,11.4],[3,11.3],[4.5,12],[5.8,11.6],[6.5,11],[5.3,10.8],[4.2,10.5],[3.8,11.2],[4,9.5],[-5.2,16.2],[-6.2,17.5],[-5.7,17],[-4.5,15.5],[-5,15.3],[-5.3,13.5],[-6,13],[-4.8,13],[-8,12.8],[-8.3,11.5],[-9,11],[-7.3,12],[-5,11.5],[-4,11],[-3,11],[-1,10.5],[-7,18.5],[-5.8,18],[-4.5,17.8],[-6,9],[-5,9.8],[-15,9.2],[3.9,-11.8],[-5.5,8.7],[-7,19],[-2.5,14.5],[-1.5,14.5],[-0.5,14.4],[0.7,14.4],[-3.3,13.5],[-2.2,13.4],[-1,13.4],[0.2,13.2],[1.3,13.2],[2.5,13],[-2.2,12.4],[-0.8,12.2],[0.5,12],[1.7,12],[3,12],[4,12.6],[5,12.5],[6,12.4],[4.5,11.3],[5.5,11],[6,12.9],[5,13.5],[-2,11.5],[1.5,11.3],[4.8,10.5]];

// (c) SERENA (ours)
const cBlue=[[-9,7],[-6,2],[-4,8],[-2,10],[0,6],[3,4],[6,2],[8,1],[11,3],[13,0],[14,2],[-7,-1],[-3,-2],[1,-1],[5,-1],[8,-3],[11,-2],[-18,-8],[-15,-6],[-10,-5],[-6,-6],[-2,-6],[2,-6],[6,-7],[10,-6],[-19,-12],[-16,-12],[-12,-10],[-7,-11],[-3,-11],[1,-11],[5,-12],[-14,-16],[-10,-14],[-6,-15],[-2,-15],[2,-16],[5,-15],[-13,-19],[-9,-19],[-5,-19],[-1,-20],[3,-20],[-8,-22],[-4,-23],[0,-23],[3,-22],[-3,-25],[-2.5,-24],[-19,-7],[-20,-10],[-12,-14],[-4,-9],[3,-8],[8,-8],[-8,-8],[-12,-18],[-7,-17],[-3,-18],[1,-18],[4,-18],[-6,-21],[-2,-21],[9,-10],[12,-4],[7,3]];
const cOrange=[[-22,35],[-19,36],[-17,37],[-24,33],[-20,33],[-16,33],[-13,32],[-27,31],[-23,30],[-19,30],[-15,30],[-11,30],[-27,27],[-24,27],[-20,27],[-16,27],[-12,27],[-7,28],[-5,27],[-29,23],[-25,23],[-21,24],[-17,24],[-13,23],[-9,23],[-5,24],[-1,25],[-31,22],[-27,20],[-24,20],[-20,20],[-16,20],[-12,20],[-8,20],[-5,20],[-22,17],[-18,17],[-14,17],[-9,18],[-35,15],[-33,12],[-29,15],[-25,14],[-21,14],[-17,14],[-30,10],[-26,10],[-22,10],[-18,10],[1,16],[2,14],[-11,10],[-8,11],[-3,11],[-1,9],[-29,7],[-25,6],[-21,6],[-17,6],[-14,6],[-5,7],[0,8],[-25,3],[-21,2],[-17,3],[-13,3],[-3,6],[2,7],[-24,-1],[-20,-1],[-16,-2],[-12,-2],[-4,2],[1,-1],[10,-2],[-19,-4],[-12,-7],[-9,-7],[-17,-10],[-15,-11],[-5,-9],[-13,-17],[-15,-19],[-17,-14],[0,-20.5]];
const cGreen=[[71.7,-12.8],[74,-15],[69,-15],[76.7,-18],[73,-18],[78,-22],[80,-26],[76,-25],[79,-28.5],[76,-31],[73,-34],[75.4,-32],[72,-37],[70,-40],[69,-43],[66,-42],[64,-45],[61.8,-47],[59,-48],[56.8,-50],[58,-51],[48,-53.5],[45,-54],[42,-56],[44,-57],[47,-56],[39,-57],[36,-60],[37,-58],[33,-64],[31,-67],[29.5,-67.5],[28,-70],[30,-71],[27,-73],[28,-75],[32,-22.5],[30,-23],[59,-16],[62,-17],[66,-15],[78,-18],[76,-21],[73,-28],[71,-32],[68,-38],[34,-61],[40,-59]];
const cRed=[[13.4,21],[15,22],[18,19],[20,18],[22,19],[24,22],[27,26],[28,24],[31,22],[33,23],[33,19],[36,18],[37,14],[39.5,13],[35,11],[33,8],[30,9],[31,5],[34,5],[30,1],[33,2],[30,-2],[33,-3],[29,-5],[27,-7],[24.6,-9],[27,-11],[30,-12],[34,-14],[32,-16],[36,-17],[34,-19],[37,-21],[35,-23],[37,-26],[40,-27],[38,-30],[40,-32],[42,-33],[46,-34],[48,-31],[46,-28],[44,-27],[46,-25],[48,-25.7],[50,-24],[54,-21],[55,-19],[61.8,-18],[67,-15],[75.7,-22.5],[25,24],[30,18],[28,-8],[33,-10],[36,-24],[44,-30],[35,15]];
const cPurple=[[19.6,-25.7],[19,-28],[21,-31],[17,-31],[18,-34],[15,-33],[19,-36],[16,-37],[13.4,-39.6],[15,-42],[11,-44],[13,-45],[9,-45],[7,-46],[5,-47],[3.5,-50],[6,-51],[2,-53],[5,-54],[1,-55.7],[3,-57],[5,-59],[7,-56],[4.7,-61],[6,-67],[8,-66],[9,-68],[7,-70],[5,-72],[2,-72],[0,-73],[-3,-74],[-6,-73],[-8,-75],[2,-77],[1,-79],[-3,-78],[-6,-78],[-8,-79],[-11,-78],[-14,-79],[-15,-81],[-18,-80],[-21,-79],[-24,-82],[-23,-77],[-26,-76],[-27,-73],[-25,-71],[-24,-73],[54,4],[57,5.4],[62,0],[48,-4],[51,-3],[70.5,10],[-20,-82],[-11,-81],[-3,-82],[-6,-80],[2,-74],[16,-28],[13,-36],[9,-41],[2,-60]];
const cBrown=[[-6.5,77],[-4,75],[22,79],[20,81],[23.3,76],[19,75],[21,71],[20,67],[21,65],[19,63],[16,60],[14,60],[15,62],[6,57],[7,50],[3,49],[0,46],[0,43],[2,43],[3,40],[6,38],[7,41],[10,39],[13,42],[14,39],[17,41],[17,38],[20,41],[23,39],[26,41],[28,39],[30,41],[32,41],[22,68],[22,73],[18,65],[4,38],[10,42],[24,42]];
const cPink=[[-26,-28],[-25,-30],[-22,-33],[-21,-34],[-17,-37],[-15,-39],[-15,-42],[-16,-44],[-17.6,-46],[-18,-48],[-20,-50],[-22,-51],[-25,-51],[-27,-53],[-31,-53],[-33,-54],[-38,-53],[-39,-55],[-42,-54],[-67,-41],[-65,-45],[-14,-36],[-18,-41],[-23,-50],[-36,-55],[-40,-52]];
const cGray=[[-87,22],[-85,22],[-85,19],[-86,16],[-88,13],[-85,13],[-83,12],[-82,9.6],[-80,8],[-76,6],[-74,5],[-71,5],[-72,2],[-70,-1],[-68,3],[-67,0],[-64,6],[-63,8],[-64,2],[-60,0],[-58,-1],[-56,-4],[-53,-2],[-50,0],[-48,1],[-46,-2],[-44,-5],[-42,-7],[-43,-9],[-42,-12],[-44,-14],[-40,-16],[-42,-19],[-49,-15],[-49,-18],[-50,-20],[-47,-21],[-52,-25],[-50,-27],[-55,-23],[-57,-26],[-60,-25],[-61,-28],[-63,-31],[-66,-33],[-67,-36],[-65,-38],[-66,-41],[-62,-44],[-62,-50],[-63,-48],[-55,-55],[-52,-55],[-48,-57],[-49,-55],[-28,-54],[-20,-50],[-12.7,-39],[-69,5],[-66,5],[-62,4],[-70,2],[-53,-24],[-58,-22],[-63,-35],[-62,-38],[-64,-31],[-40,-12],[-45,-9],[-82,13]];
const cOlive=[[43,57],[46,58],[47,55],[44,53],[46,51],[44.4,50],[46,48],[49,47],[52,47],[55.6,46],[56,44],[57,41.8],[60,39],[61,36],[63,35],[66,32],[69,29],[70,26],[74,25],[76,22],[78,19],[76,18],[74,12],[72,10],[68,9],[65,7],[66,10],[62,6],[59,5],[57,2],[54,1],[52,-1],[49,-3],[47,-5],[48,53],[50,44],[59,36],[65,30],[72,22],[70,12],[60,8]];
const cCyan=[[-48.5,20],[-50,22],[-52,21],[-53,24.5],[-55,27],[-51.5,26],[-56,29],[-54,31],[-52.5,29],[-56.5,33],[-58.5,36],[-61,35],[-60,37.5],[-58,38],[-56,44],[-58,46],[-60,43],[-56,47],[-50,49],[-48,48],[-45,47],[-43,46],[-41,49],[-39.5,52],[-40,55],[-38.5,56],[-36,66],[-35,65],[-34,67],[-33,64],[-30,66],[-30,63.5],[-28,64],[-25,63],[-22,63],[-20,64],[-21,67],[-19,68],[-17,66.5],[-16,69],[-13,69],[-14,65],[-12,66],[-10,64.5],[-8,67],[-7,69],[-5.5,78],[-3,80],[-1.5,81],[-2,76],[1,77],[2,81],[4.7,84],[6.5,86],[5,80],[13.4,86],[15,83],[17,78],[16,82],[2.2,51],[4,55],[6.7,57],[4.7,41],[-47,45],[-55,45],[-37,63],[-24,65],[-15,67],[-53,34]];

const panels=[
 {title:"(a) iid-online",titleX:175.5,rotate:true,box:[54.5,316,61,349],xDomain:[-33.9,38.6],yDomain:[-16.4,18.9],xTicks:[-20,0,20],yTicks:[-10,0,10],
  data:[aBlue,aOrange,aGreen,aRed,aPurple,aBrown,aPink,aGray,aOlive,aCyan]},
 {title:"(b) iid-offline",titleX:532,rotate:true,box:[411.7,673,61,349],xDomain:[-20.8,21.9],yDomain:[-23.4,27.3],xTicks:[-12,0,12],yTicks:[-14,0,14],
  data:[bBlue,bOrange,bGreen,bRed,bPurple,bBrown,bPink,bGray,bOlive,bCyan]},
 {title:"(c) SERENA (ours)",titleX:888.5,rotate:false,box:[780.3,1029,61,349],xDomain:[-97,88.4],yDomain:[-90.7,94.5],xTicks:[-50,0,50],yTicks:[-50,0,50],
  data:[cBlue,cOrange,cGreen,cRed,cPurple,cBrown,cPink,cGray,cOlive,cCyan]}
];

const svg=d3.select("#chart");
svg.append("rect").attr("width",1072).attr("height",387).attr("fill","#fff");
panels.forEach(p=>{
  const [l,r,t,b]=p.box;
  const x=d3.scaleLinear().domain(p.xDomain).range([l,r]);
  const y=d3.scaleLinear().domain(p.yDomain).range([b,t]);
  const g=svg.append("g");
  const gx=g.append("g").attr("transform",`translate(0,${b})`).call(d3.axisBottom(x).tickValues(p.xTicks).tickSize(-(b-t)).tickPadding(12));
  const gy=g.append("g").attr("transform",`translate(${l},0)`).call(d3.axisLeft(y).tickValues(p.yTicks).tickSize(-(r-l)).tickPadding(13));
  [gx,gy].forEach(a=>{
    a.select(".domain").remove();
    a.selectAll(".tick line").attr("stroke","#cfcfcf").attr("stroke-width",1).attr("stroke-dasharray","4.5,2.5");
    a.selectAll("text").attr("fill","#444").style("font-family","'DejaVu Sans'").style("font-size","9px");
  });
  if(p.rotate){
    gy.selectAll("text").attr("text-anchor","middle").attr("x",-13.5).attr("dy",0)
      .attr("transform","rotate(-90,-13.5,0)");
  }
  p.data.forEach((pts,i)=>{
    g.append("g").attr("class",classNames[i]).selectAll("circle").data(pts).join("circle")
      .attr("cx",d=>x(d[0])).attr("cy",d=>y(d[1])).attr("r",4.4)
      .attr("fill",classColors[i]).attr("fill-opacity",0.92)
      .attr("stroke","#3a3a3a").attr("stroke-opacity",0.7).attr("stroke-width",0.6);
  });
  g.append("rect").attr("x",l).attr("y",t).attr("width",r-l).attr("height",b-t)
    .attr("fill","none").attr("stroke","#d2d2d2").attr("stroke-width",1.5);
  g.append("text").attr("x",p.titleX).attr("y",36).attr("text-anchor","middle")
    .style("font-family","'Liberation Serif'").style("font-size","20.4px").attr("fill","#111").text(p.title);
});
</script></body></html>
